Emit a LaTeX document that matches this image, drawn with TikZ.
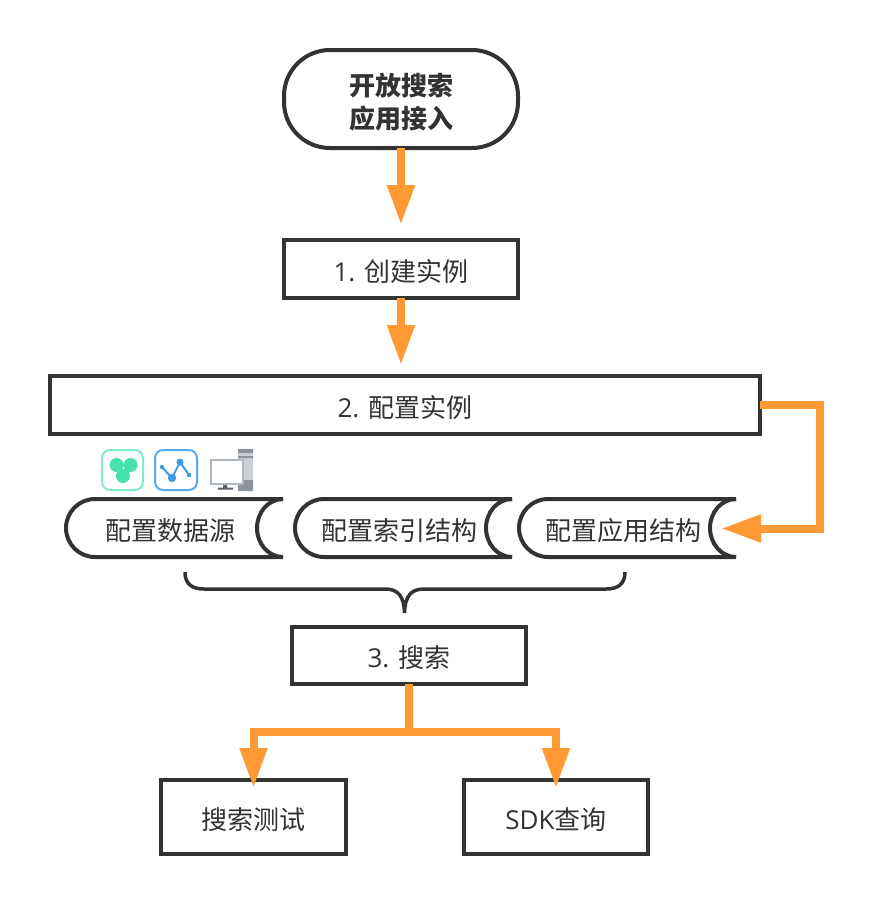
\documentclass[tikz,border=0pt]{standalone}
\usepackage{fontspec}
\setmainfont{Noto Sans CJK SC}
\newfontfamily\latfont{Open Sans}
\usetikzlibrary{arrows.meta}
\definecolor{ink}{HTML}{333333}
\definecolor{flow}{HTML}{FF9933}
\definecolor{tealedge}{RGB}{130,235,205}
\definecolor{tealfill}{RGB}{70,225,175}
\definecolor{blueedge}{RGB}{90,170,232}
\definecolor{bluefill}{RGB}{60,155,225}
\definecolor{towerlight}{RGB}{205,209,215}
\definecolor{towerdark}{RGB}{140,147,155}
\definecolor{screenedge}{RGB}{175,182,190}
\definecolor{standdark}{RGB}{90,98,108}
\tikzset{
  x=1pt,y=-1pt,
  txt/.style={text=ink,font=\fontsize{26}{33}\selectfont,inner sep=0pt,outer sep=0pt},
  oneline/.style={txt,text height=26pt,text depth=2pt},
  stepbox/.style={oneline,draw=ink,line width=4pt,fill=white},
  startbox/.style={txt,align=center,draw=ink,line width=4pt,fill=white,rounded corners=46pt,font=\fontsize{26}{33}\selectfont\bfseries},
  tapebox/.style={oneline,minimum width=217pt,minimum height=58pt,execute at begin node=\hspace*{-9pt}},
  tapeline/.style={draw=ink,line width=4pt},
  bracel/.style={draw=ink,line width=3.5pt},
  conn/.style={draw=flow,line width=8pt,line join=miter},
  arr/.style={conn,-{Triangle[length=40pt,width=26pt]}},
}
\newcommand\tapeoutline[1]{
  \draw[tapeline] (#1.north east) -- ([xshift=29pt]#1.north west)
    arc[start angle=90,end angle=270,radius=29pt] -- (#1.south east);
  \draw[tapeline] (#1.north east) arc[start angle=90,end angle=270,x radius=26pt,y radius=29pt];
}
\begin{document}
\begin{tikzpicture}
\useasboundingbox[fill=white] (0,0) rectangle (869,903);

% icons
\draw[draw=tealedge,line width=2pt,rounded corners=8pt] (102,450) rectangle (143,490);
\fill[tealfill] (116.5,465) circle[radius=7pt] (130.5,465) circle[radius=7pt] (123,476) circle[radius=7pt];
\draw[draw=blueedge,line width=2pt,rounded corners=8pt] (155,450) rectangle (197,490);
\draw[draw=bluefill,line width=2pt] (162,467) -- (172,478) -- (180,462) -- (189,475);
\fill[bluefill] (162,467) circle[radius=2.2pt] (172,478) circle[radius=4.2pt] (180,462) circle[radius=3.5pt] (189,475) circle[radius=2.2pt];
\fill[towerlight] (238,449) rectangle (253,491);
\fill[towerdark] (238,449) rectangle (253,453) (238,456) rectangle (253,458) (238,480) rectangle (253,491);
\draw[draw=screenedge,fill=white,line width=1.6pt] (211,460) rectangle (243,484);
\fill[standdark] (223,485) rectangle (227,488) (218,487.5) rectangle (233,489.5);

% nodes
\node[startbox,minimum width=234pt,minimum height=98pt] (start) at (401,99) {\rule{0pt}{29pt}开放搜索\\应用接入};
\node[stepbox,minimum width=234pt,minimum height=58pt] (create) at (401,269) {{\latfont 1. }创建实例};
\node[stepbox,minimum width=710pt,minimum height=58pt] (config) at (405,405) {{\latfont 2. }配置实例};
\node[tapebox] (data) at (174.5,528) {配置数据源};
\node[tapebox] (index) at (403.5,528) {配置索引结构};
\node[tapebox] (app) at (627.5,528) {配置应用结构};
\node[stepbox,minimum width=234pt,minimum height=57pt] (search) at (409,655.5) {{\latfont 3. }搜索};
\node[stepbox,minimum width=185pt,minimum height=74pt] (test) at (253.5,817) {搜索测试};
\node[stepbox,minimum width=184pt,minimum height=74pt] (sdk) at (556,817) {{\latfont SDK}查询};

\tapeoutline{data}
\tapeoutline{index}
\tapeoutline{app}

% brace
\draw[bracel] (185,572) .. controls (185,584) and (192,589) .. (204,589) -- (385,589)
  .. controls (398,589) and (404,596) .. (404.5,613)
  .. controls (405,596) and (411,589) .. (424,589) -- (606,589)
  .. controls (618,589) and (625,584) .. (625,572);

% connectors
\coordinate (appin) at (721,528.5);
\coordinate (testin) at (253.5,788);
\coordinate (sdkin) at (556,788);
\coordinate (branch) at (409,732);
\draw[arr,shorten >=15pt] (start.south) -- (create.north);
\draw[arr,shorten >=11pt] (create.south) -- (create.south |- config.north);
\draw[arr] (config.east |- 0,405) -- (819.5,405) -- (819.5,528.5) -- (appin);
\draw[conn] (search.south) -- (branch);
\draw[arr] (branch) -- (testin |- branch) -- (testin);
\draw[arr] (branch) -- (sdkin |- branch) -- (sdkin);
\end{tikzpicture}
\end{document}
